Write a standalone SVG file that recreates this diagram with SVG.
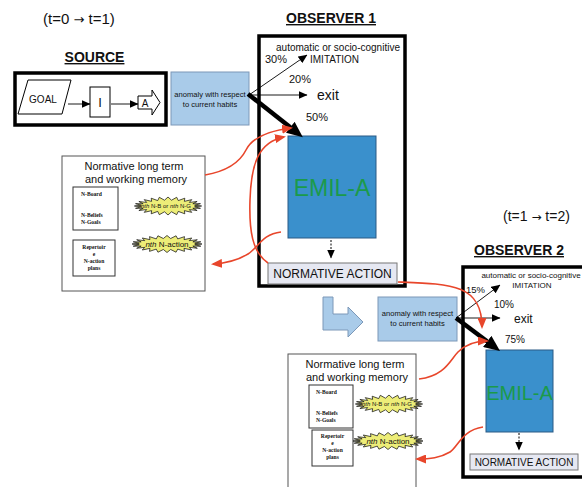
<svg xmlns="http://www.w3.org/2000/svg" xmlns:xlink="http://www.w3.org/1999/xlink" width="582" height="487" viewBox="0 0 582 487">
<style>
text{font-family:"Liberation Sans",Arial,sans-serif;fill:#111}
.arr{font-family:"DejaVu Sans",sans-serif}
.thick{fill:none;stroke:#000;stroke-width:3.5}
.anom{fill:#a9cbe9;stroke:#7c98b8;stroke-width:1}
.emil{fill:#3a90cc;stroke:#2a5a85;stroke-width:1}
.emilt{fill:#1b9a4a;text-anchor:middle}
.na{fill:#e6e8f2;stroke:#777;stroke-width:1}
.mem{fill:#fff;stroke:#555;stroke-width:1}
.inner{fill:#fff;stroke:#333;stroke-width:1}
.ser{font-family:"Liberation Serif","Times New Roman",serif;font-weight:bold;font-size:5.6px}
.c{text-anchor:middle}
.thin{fill:none;stroke:#000;stroke-width:0.9}
.red{fill:none;stroke:#e8462b;stroke-width:1.6}
.star{fill:#eded78;stroke:#111;stroke-width:0.8}
</style>
<defs>
<marker id="ah" markerUnits="userSpaceOnUse" markerWidth="9" markerHeight="8" refX="8.5" refY="4" orient="auto"><path d="M0,0 L9,4 L0,8 z" fill="#000"/></marker>
<marker id="ahBig" markerUnits="userSpaceOnUse" markerWidth="16" markerHeight="14" refX="6" refY="7" orient="auto"><path d="M0,0 L16,7 L0,14 z" fill="#000"/></marker>
<marker id="ahRed" markerUnits="userSpaceOnUse" markerWidth="11" markerHeight="9" refX="9" refY="4.5" orient="auto"><path d="M0,0 L11,4.5 L0,9 z" fill="#e8462b"/></marker>
<polygon id="star" points="35,0 27.76,0.85 33.8,2.59 25.87,2.49 30.31,5 22.22,3.96 24.75,7.07 17.05,5.16 17.5,8.66 10.72,6.01 9.06,9.66 3.65,6.44 0,10 -3.65,6.44 -9.06,9.66 -10.72,6.01 -17.5,8.66 -17.05,5.16 -24.75,7.07 -22.22,3.96 -30.31,5 -25.87,2.49 -33.8,2.59 -27.76,0.85 -35,0 -27.76,-0.85 -33.8,-2.59 -25.87,-2.49 -30.31,-5 -22.22,-3.96 -24.75,-7.07 -17.05,-5.16 -17.5,-8.66 -10.72,-6.01 -9.06,-9.66 -3.65,-6.44 0,-10 3.65,-6.44 9.06,-9.66 10.72,-6.01 17.5,-8.66 17.05,-5.16 24.75,-7.07 22.22,-3.96 30.31,-5 25.87,-2.49 33.8,-2.59 27.76,-0.85"/>
</defs>
<rect width="582" height="487" fill="#fff"/>

<text x="43" y="24" font-size="15">(t=0 <tspan class="arr" font-size="13">→</tspan> t=1)</text>
<text x="503" y="221" font-size="14">(t=1 <tspan class="arr" font-size="12">→</tspan> t=2)</text>

<g id="source">
<text x="94.5" y="62" font-size="14" font-weight="bold" class="c" text-decoration="underline">SOURCE</text>
<rect x="15" y="73" width="151" height="52" class="thick" stroke-width="3"/>
<polygon points="28,80 71,80 62,114 18,114" fill="#fff" stroke="#000" stroke-width="1"/>
<text x="43" y="103" font-size="10" class="c">GOAL</text>
<rect x="90" y="87" width="20" height="30" fill="#fff" stroke="#000" stroke-width="1"/>
<text x="100" y="107" font-size="13" class="c">I</text>
<polygon points="138,96 152,96 152,90 160,102.5 152,115 152,109 138,109" fill="#fff" stroke="#000" stroke-width="1"/>
<text x="145" y="106.5" font-size="10" class="c">A</text>
</g>

<g id="anomaly1">
<rect x="171" y="72" width="78" height="53" class="anom"/>
<text x="210" y="97" font-size="7.6" class="c">anomaly with respect</text>
<text x="210" y="107" font-size="7.6" class="c">to current habits</text>
</g>

<g id="observer1">
<text x="331" y="23" font-size="14" font-weight="bold" class="c" text-decoration="underline">OBSERVER 1</text>
<rect x="259" y="36" width="146" height="250" class="thick"/>
<text x="338" y="51" font-size="10" class="c">automatic or socio-cognitive</text>
<text x="310" y="63" font-size="10">IMITATION</text>
<text x="265" y="63" font-size="11">30%</text>
<text x="289" y="83" font-size="11">20%</text>
<text x="317" y="100" font-size="14">exit</text>
<text x="306" y="121" font-size="11">50%</text>
</g>

<g id="emil1">
<rect x="288" y="136" width="88" height="102" class="emil"/>
<text x="332" y="196" font-size="23" class="emilt">EMIL-A</text>
</g>

<g id="normaction1">
<rect x="268" y="263" width="129" height="21" class="na"/>
<text x="332.5" y="278" font-size="12" class="c">NORMATIVE ACTION</text>
</g>

<g id="memory1">
<rect x="62" y="156" width="143" height="135" class="mem"/>
<text x="134" y="170" font-size="11" class="c">Normative long term</text>
<text x="136" y="183" font-size="11" class="c">and working memory</text>
<rect x="73" y="187" width="45" height="43" class="inner"/>
<text x="81" y="196" class="ser">N-Board</text>
<text x="81" y="217" class="ser">N-Beliefs</text>
<text x="81" y="223.5" class="ser">N-Goals</text>
<rect x="73" y="240" width="42" height="36" class="inner"/>
<text x="94" y="249" class="ser c">Repertoir</text>
<text x="94" y="256" class="ser c">e</text>
<text x="94" y="263" class="ser c">N-action</text>
<text x="94" y="270" class="ser c">plans</text>
<use xlink:href="#star" class="star" transform="translate(168,206) scale(0.96,0.9)"/>
<text x="166" y="208" font-size="6" class="c"><tspan font-style="italic">nth</tspan> N-B or <tspan font-style="italic">nth</tspan> N-G</text>
<use xlink:href="#star" class="star" transform="translate(167,244) scale(1,0.85)"/>
<text x="167" y="247" font-size="8" class="c"><tspan font-style="italic">nth</tspan> N-action</text>
</g>

<g id="bigarrow">
<polygon points="323,297 333,297 333,314 348,314 348,307 363,322 348,337 348,330 323,330" fill="#a9cbe9" stroke="#7c98b8" stroke-width="1"/>
</g>

<g id="anomaly2">
<rect x="378" y="297" width="79" height="44" class="anom"/>
<text x="417.5" y="316" font-size="7.6" class="c">anomaly with respect</text>
<text x="417.5" y="326" font-size="7.6" class="c">to current habits</text>
</g>

<g id="observer2">
<text x="519" y="255" font-size="14" font-weight="bold" class="c" text-decoration="underline">OBSERVER 2</text>
<rect x="463" y="267" width="140" height="210" class="thick"/>
<text x="531" y="278" font-size="8" class="c">automatic or socio-cognitive</text>
<text x="532" y="288" font-size="8" class="c">IMITATION</text>
<text x="466" y="293" font-size="9.5">15%</text>
<text x="494" y="308" font-size="10">10%</text>
<text x="514" y="323" font-size="12">exit</text>
<text x="505" y="343" font-size="10">75%</text>
</g>

<g id="emil2">
<rect x="486" y="350" width="67" height="82" class="emil"/>
<text x="519.5" y="400" font-size="20" class="emilt">EMIL-A</text>
</g>

<g id="normaction2">
<rect x="470" y="454" width="108" height="16" class="na"/>
<text x="524" y="466" font-size="10" class="c">NORMATIVE ACTION</text>
</g>

<g id="memory2">
<rect x="288" y="354" width="128" height="140" class="mem"/>
<text x="355" y="368" font-size="11" class="c">Normative long term</text>
<text x="357" y="381" font-size="11" class="c">and working memory</text>
<rect x="309" y="385" width="44" height="43" class="inner"/>
<text x="316" y="394" class="ser">N-Board</text>
<text x="316" y="415" class="ser">N-Beliefs</text>
<text x="316" y="421.5" class="ser">N-Goals</text>
<rect x="312" y="430" width="41" height="36" class="inner"/>
<text x="332.5" y="438" class="ser c">Repertoir</text>
<text x="332.5" y="445" class="ser c">e</text>
<text x="332.5" y="452" class="ser c">N-action</text>
<text x="332.5" y="459" class="ser c">plans</text>
<use xlink:href="#star" class="star" transform="translate(389,404) scale(0.96,0.9)"/>
<text x="387" y="406" font-size="6" class="c"><tspan font-style="italic">nth</tspan> N-B or <tspan font-style="italic">nth</tspan> N-G</text>
<use xlink:href="#star" class="star" transform="translate(388,441) scale(1,0.85)"/>
<text x="388" y="444" font-size="8" class="c"><tspan font-style="italic">nth</tspan> N-action</text>
</g>

<g id="connectors">
<line x1="68" y1="104" x2="90" y2="104" class="thin" marker-end="url(#ah)"/>
<line x1="111" y1="104" x2="138" y2="104" class="thin" marker-end="url(#ah)"/>
<line x1="249" y1="95" x2="307" y2="55" class="thin" marker-end="url(#ah)"/>
<line x1="249" y1="95" x2="307" y2="95" class="thin" marker-end="url(#ah)"/>
<line x1="248" y1="94" x2="295" y2="131" stroke="#000" stroke-width="4.5" marker-end="url(#ahBig)"/>
<line x1="331" y1="240" x2="331" y2="258" stroke="#000" stroke-width="1" stroke-dasharray="2,1.5" marker-end="url(#ah)"/>
<line x1="456" y1="318" x2="500" y2="285" class="thin" marker-end="url(#ah)"/>
<line x1="456" y1="318" x2="500" y2="318" class="thin" marker-end="url(#ah)"/>
<line x1="456" y1="318" x2="492" y2="345" stroke="#000" stroke-width="4.5" marker-end="url(#ahBig)"/>
<line x1="519" y1="433" x2="519" y2="450" stroke="#000" stroke-width="1" stroke-dasharray="2,1.5" marker-end="url(#ah)"/>
<path d="M205,175 C228,171 240,162 246,150 C252,138 268,131 291,128" class="red" marker-end="url(#ahRed)"/>
<path d="M268,263 C252,252 249,230 250,200 C251,165 258,142 284,137" class="red" marker-end="url(#ahRed)"/>
<path d="M281,232 C262,234 258,248 248,254 C238,260 228,263 213,264" class="red" marker-end="url(#ahRed)"/>
<path d="M398,282 C450,284 482,284 482,327" class="red" marker-end="url(#ahRed)"/>
<path d="M419,379 C445,376 450,360 458,352 C466,344 475,341 487,341" class="red" marker-end="url(#ahRed)"/>
<path d="M483,427 C462,430 458,447 450,452 C440,458 430,459 417,459" class="red" marker-end="url(#ahRed)"/>
</g>
</svg>
